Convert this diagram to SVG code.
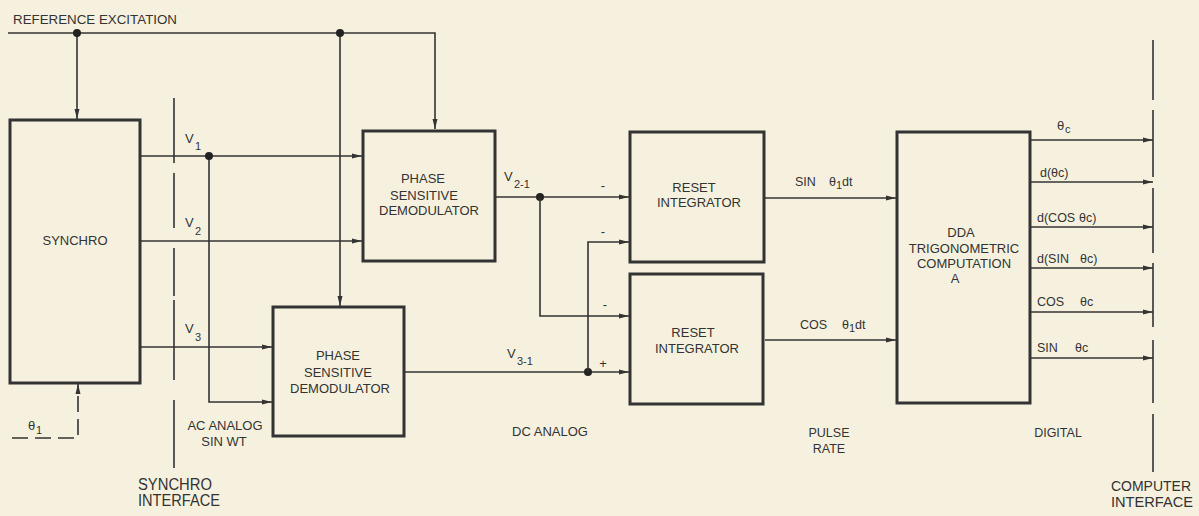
<svg xmlns="http://www.w3.org/2000/svg" width="1199" height="516" viewBox="0 0 1199 516">
<defs>
<marker id="ar" markerUnits="userSpaceOnUse" markerWidth="10" markerHeight="6" refX="10" refY="3" orient="auto">
<path d="M0,0.5 L10,3 L0,5.5 z" fill="#333"/>
</marker>
<style>
.bx{fill:none;stroke:#333;stroke-width:3}
.ln{fill:none;stroke:#333;stroke-width:1.6}
.ar{marker-end:url(#ar)}
.dash{stroke-dasharray:16,7}
.dot{fill:#222}
text{font-family:"Liberation Sans",Arial,sans-serif;fill:#333;font-size:13px}
.c{text-anchor:middle}
.s{font-size:12.5px}
.sub{font-size:11px}
.big{font-size:16px;fill:#333}
.big2{font-size:14.5px;fill:#333}
</style>
</defs>
<rect width="1199" height="516" fill="#f6f1df"/>

<g id="connectors">
<path class="ln ar" d="M8,33 H435 V129"/>
<path class="ln ar" d="M77,33 V119"/>
<path class="ln ar" d="M340,33 V306"/>
<circle class="dot" cx="77" cy="33" r="4"/>
<circle class="dot" cx="340" cy="33" r="4"/>
<path class="ln ar" d="M141,156 H362"/>
<path class="ln ar" d="M141,241 H362"/>
<path class="ln ar" d="M141,347 H272"/>
<path class="ln ar" d="M209,156 V402 H272"/>
<circle class="dot" cx="209" cy="156" r="4"/>
<path class="ln ar dash" d="M12,438 H78 V384"/>
<path class="ln" d="M174,98 V163 M174,173 V228 M174,248 V296 M174,300 V380 M174,400 V468"/>
<path class="ln ar" d="M496,197 H629"/>
<circle class="dot" cx="540" cy="197" r="4"/>
<path class="ln ar" d="M540,197 V316 H629"/>
<path class="ln ar" d="M405,372 H629"/>
<circle class="dot" cx="588" cy="372" r="4"/>
<path class="ln ar" d="M588,372 V242 H629"/>
<path class="ln ar" d="M765,198 H896"/>
<path class="ln ar" d="M765,340 H896"/>
<path class="ln ar" d="M1031,140 H1153"/>
<path class="ln ar" d="M1031,182 H1153"/>
<path class="ln ar" d="M1031,227 H1153"/>
<path class="ln ar" d="M1031,268 H1153"/>
<path class="ln ar" d="M1031,312 H1153"/>
<path class="ln ar" d="M1031,358 H1153"/>
<path class="ln" d="M1153,40 V100 M1153,110 V177 M1153,188 V253 M1153,263 V327 M1153,340 V403 M1153,414 V472"/>
</g>

<g id="synchro">
<rect class="bx" x="10" y="120" width="130" height="263"/>
<text class="c" x="75" y="245" font-size="13.5">SYNCHRO</text>
</g>
<g id="psd1">
<rect class="bx" x="363" y="131" width="132" height="130"/>
<text class="c" x="423" y="183" font-size="13.5">PHASE</text>
<text class="c" x="424" y="200" font-size="13.5">SENSITIVE</text>
<text class="c" x="429" y="215" font-size="13.5">DEMODULATOR</text>
</g>
<g id="psd2">
<rect class="bx" x="273" y="307" width="131" height="129"/>
<text class="c" x="338" y="360" font-size="13.5">PHASE</text>
<text class="c" x="338" y="377" font-size="13.5">SENSITIVE</text>
<text class="c" x="340" y="393" font-size="13.5">DEMODULATOR</text>
</g>
<g id="ri1">
<rect class="bx" x="630" y="132" width="134" height="130"/>
<text class="c" x="694" y="192" font-size="13.5">RESET</text>
<text class="c" x="699" y="207" font-size="13.5">INTEGRATOR</text>
</g>
<g id="ri2">
<rect class="bx" x="630" y="274" width="133" height="130"/>
<text class="c" x="693" y="337" font-size="13.5">RESET</text>
<text class="c" x="697" y="353" font-size="13.5">INTEGRATOR</text>
</g>
<g id="dda">
<rect class="bx" x="897" y="132" width="133" height="271"/>
<text class="c" x="961" y="237" font-size="13">DDA</text>
<text class="c" x="964" y="253" font-size="13">TRIGONOMETRIC</text>
<text class="c" x="964" y="268" font-size="13">COMPUTATION</text>
<text class="c" x="955" y="283" font-size="13">A</text>
</g>

<g id="labels">
<text x="13" y="24" textLength="164" lengthAdjust="spacingAndGlyphs">REFERENCE EXCITATION</text>
<text x="185" y="143" font-size="14">V<tspan class="sub" x="195" y="150">1</tspan></text>
<text x="185" y="227" font-size="14">V<tspan class="sub" x="195" y="235">2</tspan></text>
<text x="185" y="333" font-size="14">V<tspan class="sub" x="195" y="341">3</tspan></text>
<text x="28" y="430" font-size="12">θ<tspan class="sub" x="36" y="434">1</tspan></text>
<text class="c" x="225" y="430">AC ANALOG</text>
<text class="c" x="224" y="446">SIN WT</text>
<text class="big" x="138" y="490" textLength="74" lengthAdjust="spacingAndGlyphs">SYNCHRO</text>
<text class="big" x="138" y="506" textLength="82" lengthAdjust="spacingAndGlyphs">INTERFACE</text>
<text x="504" y="181" font-size="14">V<tspan class="sub" x="514" y="188">2-1</tspan></text>
<text x="507" y="358" font-size="14">V<tspan class="sub" x="517" y="365">3-1</tspan></text>
<text class="c" x="603" y="190">-</text>
<text class="c" x="603" y="236">-</text>
<text class="c" x="605" y="309">-</text>
<text class="c" x="603" y="368">+</text>
<text class="c" x="550" y="436">DC ANALOG</text>
<text class="s" x="795" y="186">SIN<tspan x="829">θ</tspan><tspan class="sub" x="836" y="189">1</tspan><tspan x="842" y="186">dt</tspan></text>
<text class="s" x="800" y="329">COS<tspan x="842">θ</tspan><tspan class="sub" x="849" y="332">1</tspan><tspan x="855" y="329">dt</tspan></text>
<text class="c s" x="829" y="437">PULSE</text>
<text class="c s" x="829" y="453">RATE</text>
<text x="1057" y="130" font-size="12.5">θ<tspan class="sub" x="1065" y="133">c</tspan></text>
<text class="s" x="1040" y="177">d(θc)</text>
<text class="s" x="1037" y="222">d(COS<tspan x="1079">θc)</tspan></text>
<text class="s" x="1037" y="263">d(SIN<tspan x="1080">θc)</tspan></text>
<text class="s" x="1037" y="306">COS<tspan x="1080">θc</tspan></text>
<text class="s" x="1037" y="352">SIN<tspan x="1075">θc</tspan></text>
<text class="c s" x="1058" y="437">DIGITAL</text>
<text class="big2" x="1111" y="491" textLength="80" lengthAdjust="spacingAndGlyphs">COMPUTER</text>
<text class="big2" x="1111" y="507" textLength="82" lengthAdjust="spacingAndGlyphs">INTERFACE</text>
</g>
</svg>
